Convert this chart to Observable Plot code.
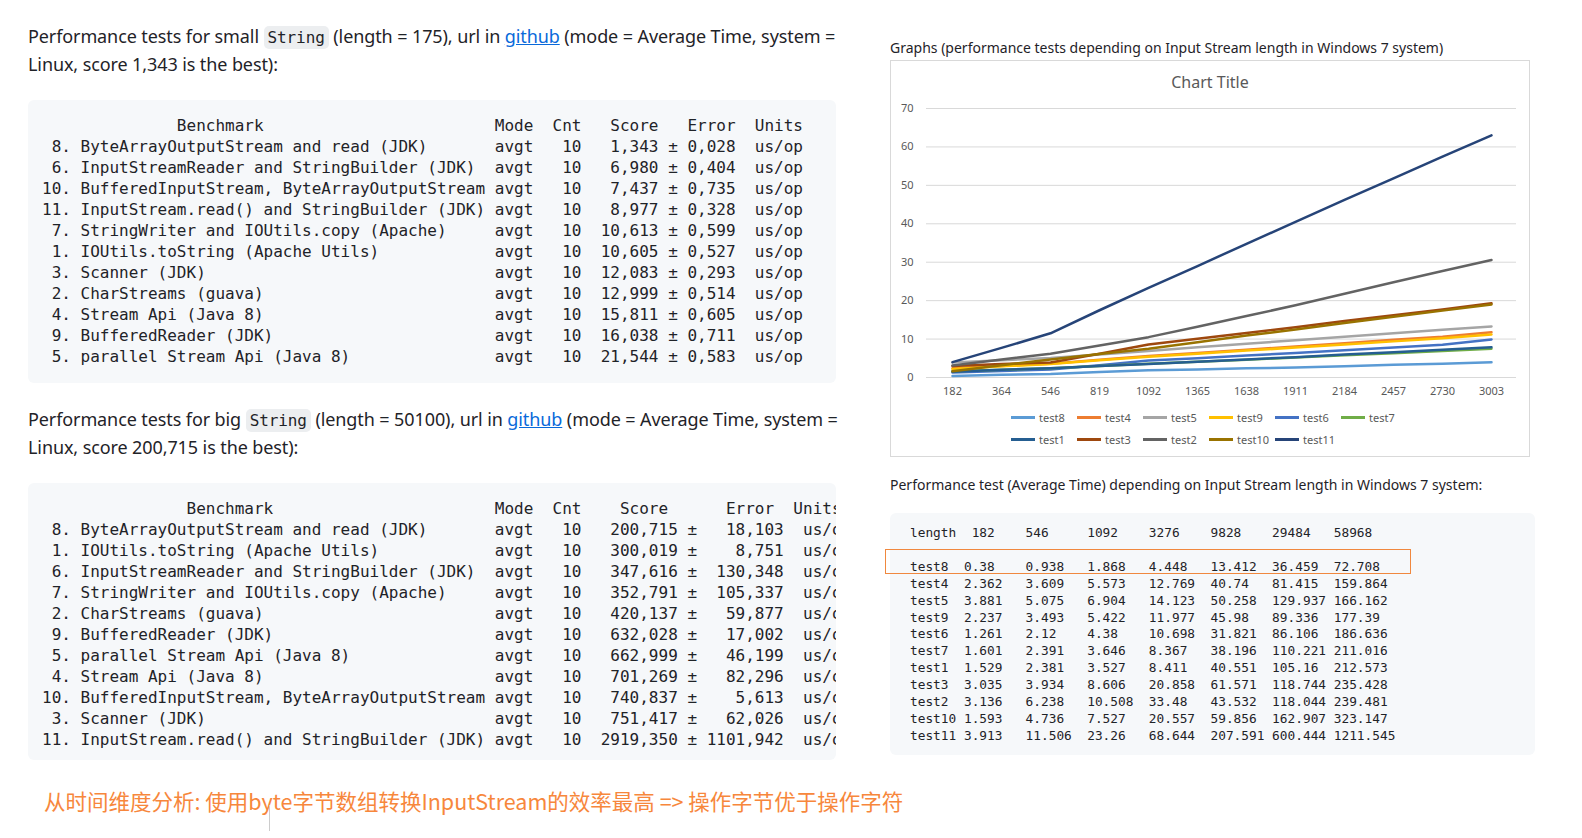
<!DOCTYPE html>
<html><head><meta charset="utf-8">
<script src="https://cdn.jsdelivr.net/npm/d3@7"></script>
<script src="https://cdn.jsdelivr.net/npm/@observablehq/plot@0.6"></script>
<style>
body{margin:0;background:#fff;width:1582px;height:838px;overflow:hidden;position:relative;font-family:"Noto Sans","Open Sans",sans-serif;color:#1f2328}
.p{position:absolute;left:28px;width:830px;font-size:18px;line-height:27px;letter-spacing:-0.1px}
.p code{font-family:"DejaVu Sans Mono",monospace;font-size:16px;background:#eceef0;border-radius:5px;padding:2px 4px}
.p a{color:#0969da;text-decoration:underline}
pre{position:absolute;margin:0;background:#f6f8fa;border-radius:6px;font-family:"DejaVu Sans Mono",monospace;overflow:hidden;white-space:pre}
.big{left:28px;width:808px;font-size:16px;line-height:21px;color:#1f2328;padding:15px 0 0 14px;box-sizing:border-box}
.cap{position:absolute;left:890px;font-size:14px;color:#1f2328}
#box{position:absolute;left:890px;top:60px;width:640px;height:397px;border:1px solid #d9d9d9;box-sizing:border-box}
#title{position:absolute;top:10px;width:100%;text-align:center;font-size:16px;color:#595959}
#legend{position:absolute;left:120px;top:348px;width:400px;display:flex;flex-wrap:wrap;row-gap:6px}
.li{width:66px;display:flex;align-items:center;font-size:11px;color:#595959;height:16px}
.li span{display:inline-block;width:24px;height:3px;margin-right:4px}
</style></head><body>
<div class="p" style="top:23px">Performance tests for small <code>String</code> (length = 175), url in <a>github</a> (mode = Average Time, system = Linux, score 1,343 is the best):</div>
<pre class="big" id="t1" style="top:100px;height:283px"></pre>
<div class="p" style="top:406px">Performance tests for big <code>String</code> (length = 50100), url in <a>github</a> (mode = Average Time, system = Linux, score 200,715 is the best):</div>
<pre class="big" id="t2" style="top:483px;height:277px"></pre>
<div style="position:absolute;left:44px;top:785px;font-size:21.5px;color:#f7873c;font-family:'Noto Sans CJK SC',sans-serif">从时间维度分析: 使用byte字节数组转换InputStream的效率最高 =&gt; 操作字节优于操作字符</div>
<div style="position:absolute;left:269px;top:805px;width:1px;height:26px;background:#ccc"></div>
<div class="cap" style="top:38px">Graphs (performance tests depending on Input Stream length in Windows 7 system)</div>
<div id="box"><div id="title">Chart Title</div><div id="plot"></div><div id="legend"></div></div>
<div class="cap" style="top:475px">Performance test (Average Time) depending on Input Stream length in Windows 7 system:</div>
<pre id="small" style="left:890px;top:513px;width:645px;height:242px;font-size:12.8px;line-height:16.9px;padding:12px 0 0 20px;box-sizing:border-box;color:#1f2328"></pre>
<div style="position:absolute;left:885px;top:549px;width:526px;height:25px;border:1px solid #f0883e;box-sizing:border-box"></div>
<script>
const idx1=["8","6","10","11","7","1","3","2","4","9","5"];
const names1=["ByteArrayOutputStream and read (JDK)","InputStreamReader and StringBuilder (JDK)","BufferedInputStream, ByteArrayOutputStream","InputStream.read() and StringBuilder (JDK)","StringWriter and IOUtils.copy (Apache)","IOUtils.toString (Apache Utils)","Scanner (JDK)","CharStreams (guava)","Stream Api (Java 8)","BufferedReader (JDK)","parallel Stream Api (Java 8)"];
const scores1=["1,343","6,980","7,437","8,977","10,613","10,605","12,083","12,999","15,811","16,038","21,544"];
const errors1=["0,028","0,404","0,735","0,328","0,599","0,527","0,293","0,514","0,605","0,711","0,583"];
const idx2=["8","1","6","7","2","9","5","4","10","3","11"];
const names2=["ByteArrayOutputStream and read (JDK)","IOUtils.toString (Apache Utils)","InputStreamReader and StringBuilder (JDK)","StringWriter and IOUtils.copy (Apache)","CharStreams (guava)","BufferedReader (JDK)","parallel Stream Api (Java 8)","Stream Api (Java 8)","BufferedInputStream, ByteArrayOutputStream","Scanner (JDK)","InputStream.read() and StringBuilder (JDK)"];
const scores2=["200,715","300,019","347,616","352,791","420,137","632,028","662,999","701,269","740,837","751,417","2919,350"];
const errors2=["18,103","8,751","130,348","105,337","59,877","17,002","46,199","82,296","5,613","62,026","1101,942"];
const table3 = [
"length  182    546     1092    3276    9828    29484   58968","",
"test8  0.38    0.938   1.868   4.448   13.412  36.459  72.708",
"test4  2.362   3.609   5.573   12.769  40.74   81.415  159.864",
"test5  3.881   5.075   6.904   14.123  50.258  129.937 166.162",
"test9  2.237   3.493   5.422   11.977  45.98   89.336  177.39",
"test6  1.261   2.12    4.38    10.698  31.821  86.106  186.636",
"test7  1.601   2.391   3.646   8.367   38.196  110.221 211.016",
"test1  1.529   2.381   3.527   8.411   40.551  105.16  212.573",
"test3  3.035   3.934   8.606   20.858  61.571  118.744 235.428",
"test2  3.136   6.238   10.508  33.48   43.532  118.044 239.481",
"test10 1.593   4.736   7.527   20.557  59.856  162.907 323.147",
"test11 3.913   11.506  23.26   68.644  207.591 600.444 1211.545"];
const h1=" ".repeat(14)+"Benchmark".padEnd(33)+"Mode  Cnt   Score   Error  Units";
const rows1=idx1.map((d,i)=>(d+".").padStart(3)+" "+names1[i].padEnd(42)+" avgt   10  "+scores1[i].padStart(6)+" ± "+errors1[i]+"  us/op");
const h2=" ".repeat(15)+"Benchmark".padEnd(32)+"Mode  Cnt    Score      Error  Units";
const rows2=idx2.map((d,i)=>(d+".").padStart(3)+" "+names2[i].padEnd(42)+" avgt   10  "+scores2[i].padStart(8)+" ± "+errors2[i].padStart(8)+"  us/op");
document.getElementById("t1").textContent=[h1,...rows1].join("\n");
document.getElementById("t2").textContent=[h2,...rows2].join("\n");
document.getElementById("small").textContent=table3.join("\n");

const lengths=["182","364","546","819","1092","1365","1638","1911","2184","2457","2730","3003"];
const seriesNames=["test8","test4","test5","test9","test6","test7","test1","test3","test2","test10","test11"];
const colors=["#5B9BD5","#ED7D31","#A5A5A5","#FFC000","#4472C4","#70AD47","#255E91","#9E480E","#636363","#997300","#264478"];
const test8=[0.4,0.7,0.9,1.4,1.9,2.1,2.4,2.6,2.9,3.3,3.6,4.0];
const test4=[2.4,3.0,3.6,4.6,5.6,6.4,7.2,8.1,8.9,9.8,10.6,11.8];
const test5=[3.9,4.5,5.1,6.0,6.9,7.9,8.8,9.7,10.6,11.5,12.4,13.3];
const test9=[2.2,2.9,3.5,4.5,5.4,6.2,7.0,7.8,8.6,9.4,10.2,11.2];
const test6=[1.3,1.7,2.1,3.2,4.4,5.0,5.7,6.4,7.1,7.8,8.5,9.9];
const test7=[1.6,2.0,2.4,3.0,3.6,4.1,4.6,5.2,5.8,6.3,6.9,7.5];
const test1=[1.5,2.0,2.4,3.0,3.5,4.1,4.7,5.3,6.0,6.6,7.2,7.9];
const test3=[3.0,3.5,3.9,6.2,8.6,10.1,11.6,13.1,14.7,16.2,17.7,19.3];
const test2=[3.1,4.7,6.2,8.3,10.5,13.2,16.0,18.8,21.8,24.8,27.7,30.6];
const test10=[1.6,3.2,4.7,6.1,7.5,9.2,10.9,12.5,14.2,15.8,17.4,19.0];
const test11=[4.0,7.7,11.5,17.5,23.3,29.0,34.8,40.5,46.2,51.8,57.5,63.0];
const vals={test8,test4,test5,test9,test6,test7,test1,test3,test2,test10,test11};
const data=seriesNames.flatMap(s=>vals[s].map((v,i)=>({s,x:lengths[i],v})));
const yTicks=[0,10,20,30,40,50,60,70];

const chart=Plot.plot({
  width:638,height:345,marginTop:47,marginBottom:29,marginLeft:35,marginRight:13,
  style:{fontFamily:"Noto Sans, sans-serif",fontSize:"11px",color:"#595959",background:"transparent"},
  x:{type:"point",domain:lengths,padding:0.5,label:null,tickSize:0,tickPadding:10},
  y:{domain:[0,70],ticks:yTicks,label:null,tickSize:0,tickPadding:13},
  color:{domain:seriesNames,range:colors},
  marks:[
    Plot.ruleY(yTicks,{stroke:"#d9d9d9"}),
    Plot.line(data,{x:"x",y:"v",z:"s",stroke:"s",strokeWidth:2.5})
  ]
});
document.getElementById("plot").appendChild(chart);
const lg=document.getElementById("legend");
seriesNames.forEach((s,i)=>{const d=document.createElement("div");d.className="li";d.innerHTML=`<span style="background:${colors[i]}"></span>${s}`;lg.appendChild(d);});
</script>
</body></html>
